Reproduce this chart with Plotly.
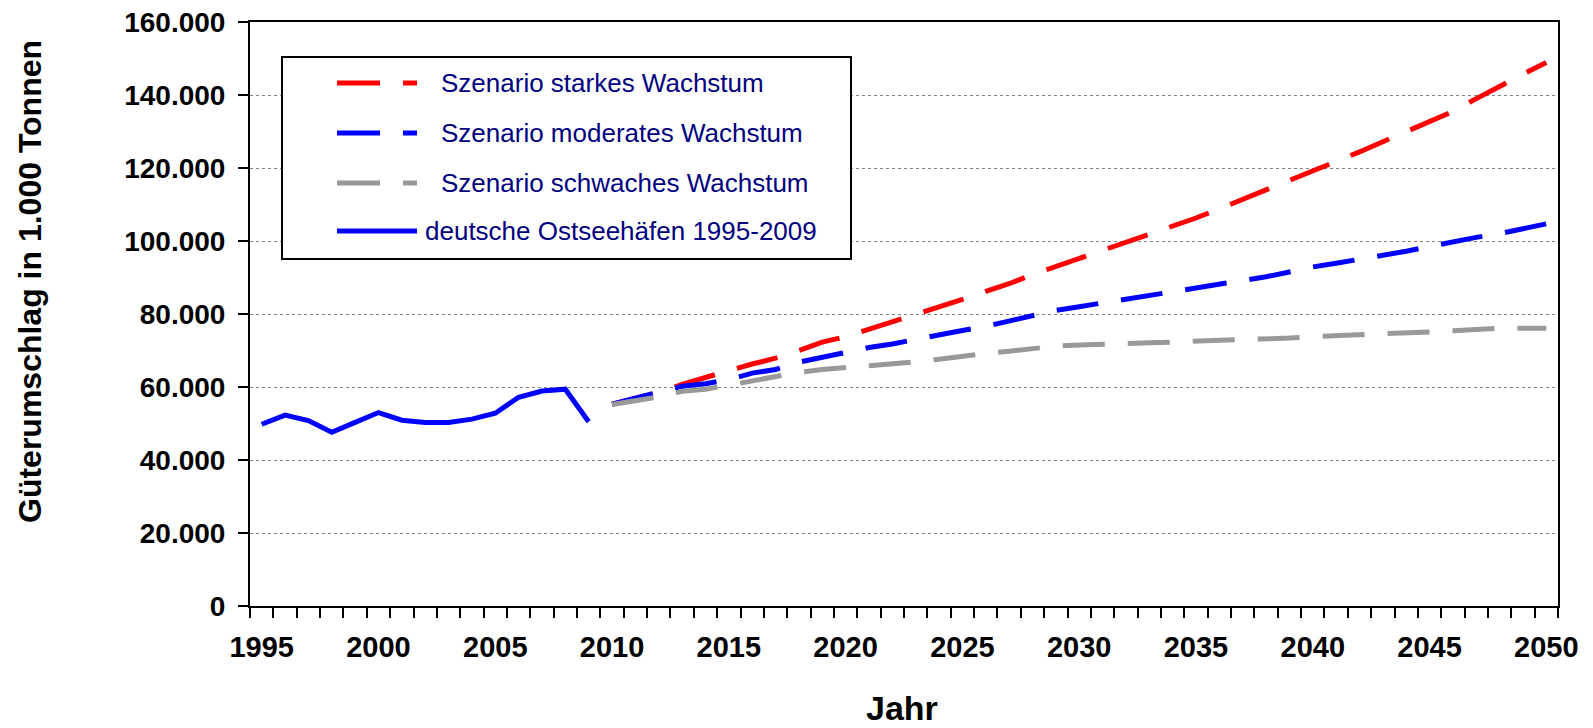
"""
Güterumschlag deutsche Ostseehäfen - Prognose bis 2050
"""
import plotly.graph_objects as go

# Daten (in 1.000 Tonnen)
years_hist = list(range(1995, 2010))
hist = [49800, 52300, 50800, 47600, 50300, 53000, 50900, 50300, 50300, 51200,
        52800, 57200, 58900, 59400, 50500]

years_scen = list(range(2010, 2051))
starkes = [55300, 56900, 58500, 60700, 62700, 64500, 66300, 67900, 70000, 72300,
           73800, 75800, 77700, 79700, 82000, 84000, 86200, 88300, 90800, 93000,
           95200, 97500, 99500, 101800, 104000, 106300, 108800, 111400, 114000, 116300,
           119000, 121500, 124400, 127200, 130000, 133000, 135500, 139000, 142500, 145700,
           148900]
moderates = [55300, 56900, 58500, 60200, 60900, 62000, 63800, 64800, 66800, 68200,
             69500, 70800, 71800, 73100, 74200, 75500, 76600, 78000, 79600, 81000,
             82000, 83000, 84000, 85200, 86300, 87000, 88000, 89200, 90200, 91500,
             92900, 93900, 94900, 95900, 97200, 98500, 99900, 101000, 102000, 103300,
             104700]
schwaches = [55200, 56200, 57300, 58800, 59400, 60500, 61700, 62600, 64000, 64800,
             65300, 65700, 66300, 66900, 67600, 68500, 69200, 69800, 70600, 71200,
             71500, 71800, 72000, 72100, 72300, 72400, 72800, 73000, 73100, 73400,
             73800, 74000, 74200, 74500, 74800, 75100, 75400, 75800, 76100, 76100,
             76100]

y_ticks = list(range(0, 160001, 20000))
x_labels = list(range(1995, 2051, 5))

series = [
    ("Szenario starkes Wachstum", starkes, "#FF0000"),
    ("Szenario moderates Wachstum", moderates, "#0000FF"),
    ("Szenario schwaches Wachstum", schwaches, "#999999"),
]

FONT = "Arial, Liberation Sans, sans-serif"
DASH = "42px,23px"

# Plotbereich in Pixeln (Fensterkoordinaten); die Seite hat 8px Rand
W, H = 1593, 728
OFF = 8
PL, PR, PT, PB = 250, 1558, 22, 606


def px(x):
    return (x - PL) / (PR - PL)


def py(y):
    return (PB - y) / (PB - PT)


fig = go.Figure()
for name, vals, col in series:
    fig.add_trace(go.Scatter(x=years_scen, y=vals, name=name, mode="lines",
                             line=dict(color=col, width=5, dash=DASH)))
fig.add_trace(go.Scatter(x=years_hist, y=hist, name="deutsche Ostseehäfen 1995-2009",
                         mode="lines", line=dict(color="#0000FF", width=5)))

fig.update_layout(
    width=W - OFF, height=H - OFF,
    margin=dict(l=PL - OFF, r=W - PR, t=PT - OFF, b=H - PB),
    plot_bgcolor="white", paper_bgcolor="white",
    showlegend=False,
    separators=",.",
    font=dict(family=FONT, color="black"),
)

fig.update_xaxes(
    range=[1994.5, 2050.5],
    tickvals=x_labels,
    ticks="outside", ticklen=10, tickcolor="rgba(0,0,0,0)",
    ticklabelstandoff=4, ticklabeloverflow="allow",
    tickfont=dict(size=29, weight="bold"),
    showline=True, linecolor="black", linewidth=2, mirror=True,
    showgrid=False, zeroline=False, automargin=False,
    minor=dict(ticks="outside", ticklen=10, tickwidth=2, tickcolor="black",
               tick0=1994.5, dtick=1, showgrid=False),
)
fig.update_yaxes(
    range=[0, 160000],
    tickvals=y_ticks, tickformat=",d",
    ticks="outside", ticklen=10, tickwidth=2, tickcolor="black",
    ticklabelstandoff=7, ticklabeloverflow="allow",
    tickfont=dict(size=28, weight="bold"),
    showline=True, linecolor="black", linewidth=2, mirror=True,
    showgrid=True, gridcolor="#808080", griddash="dot", gridwidth=1,
    zeroline=False, automargin=False,
)

# Achsentitel
fig.add_annotation(text="Jahr", xref="paper", yref="paper", x=px(902), y=py(708),
                   showarrow=False, font=dict(size=34, weight="bold"),
                   xanchor="center", yanchor="middle")
fig.add_annotation(text="Güterumschlag in 1.000 Tonnen", xref="paper", yref="paper",
                   x=px(30), y=py(282), textangle=-90, showarrow=False,
                   font=dict(size=32, weight="bold"), xanchor="center", yanchor="middle")

# Legende (von Hand gezeichnet, wie im Original)
fig.add_shape(type="rect", xref="paper", yref="paper",
              x0=px(282), x1=px(851), y0=py(57), y1=py(259),
              line=dict(color="black", width=2), fillcolor="white", layer="above")
legend_rows = [83, 133, 183, 231]
entries = [(n, c, True) for n, _, c in series] + [("deutsche Ostseehäfen 1995-2009", "#0000FF", False)]
for (name, col, dashed), ry in zip(entries, legend_rows):
    fig.add_shape(type="line", xref="paper", yref="paper",
                  x0=px(337), x1=px(417), y0=py(ry), y1=py(ry),
                  line=dict(color=col, width=5, dash="43px,23px" if dashed else "solid"),
                  layer="above")
    tx = 439 if dashed else 423
    fig.add_annotation(text=name, xref="paper", yref="paper", x=px(tx), y=py(ry),
                       showarrow=False, xanchor="left", yanchor="middle",
                       font=dict(size=26, color="#000080"))

fig.write_html("out.html")
